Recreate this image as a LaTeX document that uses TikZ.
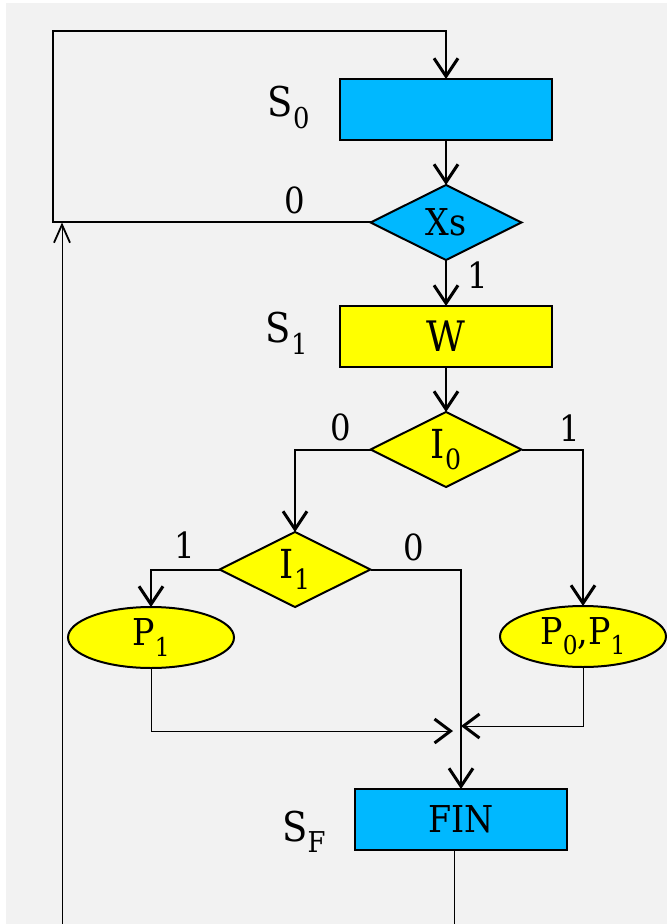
\documentclass[tikz,border=0pt]{standalone}
\usepackage{fontspec}
\setmainfont{DejaVu Serif Condensed}
\usepackage{graphicx}
\usetikzlibrary{shapes.geometric, arrows.meta, positioning, calc}

\definecolor{stcyan}{RGB}{0,184,255}
\definecolor{styellow}{RGB}{255,255,0}
\definecolor{bggray}{RGB}{242,242,242}
\newcommand{\idx}[1]{\raisebox{-0.28em}{\scalebox{0.7}{#1}}}

\begin{document}
\begin{tikzpicture}[
    statebox/.style={rectangle, draw, line width=1pt, minimum width=106pt, minimum height=30.5pt, inner sep=0pt, outer sep=0pt, font=\fontsize{18.5}{21}\selectfont},
    testbox/.style={diamond, draw, line width=1pt, minimum width=75.5pt, minimum height=37.5pt, shape aspect=2, inner sep=0pt, outer sep=0pt, font=\fontsize{18.5}{21}\selectfont},
    outbox/.style={ellipse, draw, line width=1pt, fill=styellow, minimum width=83pt, minimum height=30.5pt, inner sep=0pt, outer sep=0pt, font=\fontsize{18.5}{21}\selectfont},
    statelabel/.style={inner sep=0pt, font=\fontsize{20.5}{24}\selectfont},
    branchlabel/.style={inner sep=0pt, font=\fontsize{18}{20}\selectfont},
    arrow/.style={-{Straight Barb[length=9pt, width=12pt, line width=1.5pt]}, line width=1pt},
    thinarrow/.style={-{Straight Barb[length=8pt, width=12pt, line width=1.5pt]}, line width=0.5pt},
    uparrow/.style={-{Straight Barb[length=9pt, width=8pt, line width=0.9pt]}, line width=0.5pt},
    thinline/.style={line width=0.5pt}
]

% Background
\useasboundingbox (0,0) rectangle (333.5pt,-462pt);
\fill[bggray] (3pt,-1.5pt) rectangle (333.5pt,-462pt);

% 1. States and tests
\node[statebox, fill=stcyan] (S0) at (223pt,-54.75pt) {};
\node[testbox, fill=stcyan, below=22.5pt of S0] (Xs) {Xs};
\node[statebox, fill=styellow, below=23pt of Xs, font=\fontsize{21}{24}\selectfont] (S1) {W};
\node[testbox, fill=styellow, below=22.5pt of S1, font=\fontsize{20}{24}\selectfont] (I0) {I\idx{0}};
\node[testbox, fill=styellow, below=22.5pt of I0, xshift=-75.5pt, font=\fontsize{20}{24}\selectfont] (I1) {I\idx{1}};

% 2. Outputs
\node[outbox, below=0pt of I1, xshift=-72pt] (P1) {P\idx{1}};
\node[outbox, below=59.5pt of I0, xshift=68.5pt] (P01) {P\idx{0},P\idx{1}};

% 3. Final state
\node[statebox, fill=stcyan, below=91pt of I1, xshift=83pt] (FIN) {FIN};

% 4. State names
\node[statelabel, left=15pt of S0.west, anchor=base east, yshift=-3.75pt] (S0name) {S\idx{0}};
\node[statelabel, left=16pt of S1.west, anchor=base east, yshift=-3.25pt] (S1name) {S\idx{1}};
\node[statelabel, left=14.5pt of FIN.west, anchor=base east, yshift=-11pt] (SFname) {S\idx{F}};

% 5. Helper points
\coordinate (tl) at ($(S0.north)+(-196.5pt,24pt)$);
\coordinate[above=30pt of FIN.north] (join);
\coordinate[below=37pt of FIN.south, xshift=-3.5pt] (finout);
\coordinate (upin) at ($(tl |- Xs.west)+(4.5pt,0)$);

% 6. Connections
\draw[arrow] (Xs.west) -| node[branchlabel, pos=0.12, above=3.5pt] {0} (tl) -| (S0.north);
\draw[arrow] (S0) -- (Xs);
\draw[arrow] (Xs) -- node[branchlabel, pos=0.33, right=10pt] {1} (S1);
\draw[arrow] (S1) -- (I0);

\draw[arrow] (I0.west) -| node[branchlabel, pos=0.2, above=3.5pt] {0} (I1.north);
\draw[arrow] (I0.east) -| node[branchlabel, pos=0.39, above=3.5pt] {1} (P01.north);
\draw[arrow] (I1.west) -| node[branchlabel, pos=0.25, above=5pt] {1} (P1.north);
\draw[arrow] (I1.east) -| node[branchlabel, pos=0.24, above=3.5pt] {0} (FIN.north);

% Merge into final state
\draw[thinarrow] (P1.south) |- ([xshift=-4pt, yshift=-1pt]join);
\draw[thinarrow] (P01.south) |- ([yshift=1.5pt]join);

% Loop back from final state
\draw[thinline] ([xshift=-3.5pt]FIN.south) -- (finout);
\draw[uparrow] (upin |- finout) -- (upin);

\end{tikzpicture}
\end{document}
